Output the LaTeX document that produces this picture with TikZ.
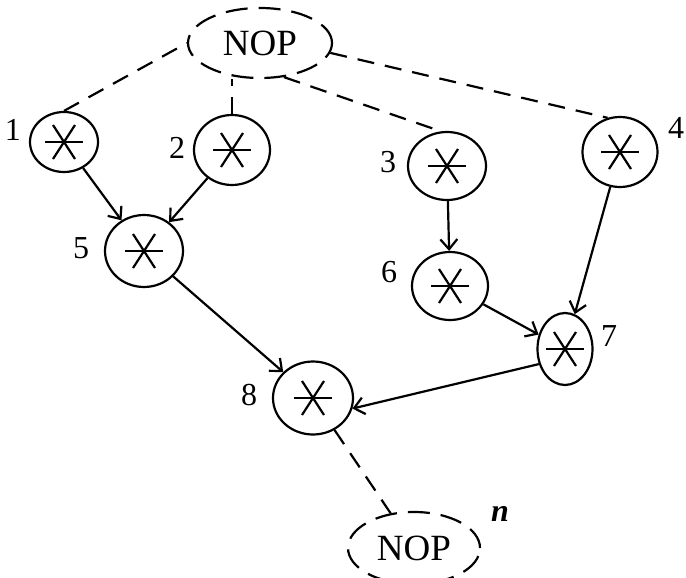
\documentclass[tikz,border=0pt]{standalone}
\usepackage{fontspec}
\setmainfont{Liberation Serif}
\usetikzlibrary{shapes.geometric,arrows.meta}
\tikzset{
  op/.style={ellipse, draw, line width=2.2pt, inner sep=0pt, minimum width=#1,
    path picture={
      \draw[line width=2.2pt] ([xshift=-19pt]path picture bounding box.center) -- ([xshift=19pt]path picture bounding box.center);
      \draw[line width=2.2pt] ([xshift=-11pt,yshift=17pt]path picture bounding box.center) -- ([xshift=11pt,yshift=-17pt]path picture bounding box.center);
      \draw[line width=2.2pt] ([xshift=11pt,yshift=17pt]path picture bounding box.center) -- ([xshift=-11pt,yshift=-17pt]path picture bounding box.center);
    }},
  nopbox/.style={ellipse, draw, line width=2.2pt, dash pattern=on 22pt off 11pt,
    minimum width=144pt, minimum height=70pt, inner sep=0pt, font=\fontsize{37}{39}\selectfont},
  lbl/.style={font=\fontsize{32}{34}\selectfont, inner sep=0pt},
  dep/.style={line width=2.2pt, -{Straight Barb[length=10pt,width=17pt,line width=2.2pt]}},
  dsh/.style={line width=2.2pt, dash pattern=on 17pt off 11pt},
}
\begin{document}
\begin{tikzpicture}[x=1pt,y=-1pt]
\useasboundingbox (0,0) rectangle (686,578);
\clip (0,0) rectangle (686,578);
\node[nopbox] (nop) at (260,43) {NOP};
\node[nopbox, minimum width=132pt, minimum height=72pt] (nopb) at (414,548) {NOP};
\node[op=68pt, minimum height=60pt] (n1) at (64,142) {};
\node[op=76pt, minimum height=70pt] (n2) at (232,150) {};
\node[op=78pt, minimum height=68pt] (n3) at (447,166) {};
\node[op=75pt, minimum height=70pt] (n4) at (620,152) {};
\node[op=78pt, minimum height=72pt] (n5) at (144,251) {};
\node[op=76pt, minimum height=68pt] (n6) at (450,286) {};
\node[op=55pt, minimum height=72pt] (n7) at (565,349) {};
\node[op=80pt, minimum height=73pt] (n8) at (313,398) {};
\node[lbl] (l1) at (13,130) {1};
\node[lbl] (l2) at (177,148) {2};
\node[lbl] (l3) at (388,162) {3};
\node[lbl] (l4) at (676,128) {4};
\node[lbl] (l5) at (81,248) {5};
\node[lbl] (l6) at (389,272) {6};
\node[lbl] (l7) at (609,336) {7};
\node[lbl] (l8) at (249,395) {8};
\node[lbl, font=\fontsize{32}{34}\selectfont\bfseries\itshape] (ln) at (500,514) {n};
\draw[dsh] (n1.north) -- (nop.west);
\draw[dsh] (n2.north) -- (n2.north |- nop.south);
\draw[dsh] (nop.-55) -- (n3.100);
\draw[dsh] (nop.-8) -- (n4.110);
\draw[dsh] (n8) -- (nopb);
\draw[dep] (n1) -- (n5);
\draw[dep] (n2) -- (n5);
\draw[dep] (n3) -- (n6);
\draw[dep] (n4) -- (n7);
\draw[dep] (n6) -- (n7);
\draw[dep] (n5) -- (n8);
\draw[dep] (n7.210) -- (n8.-15);
\end{tikzpicture}
\end{document}
